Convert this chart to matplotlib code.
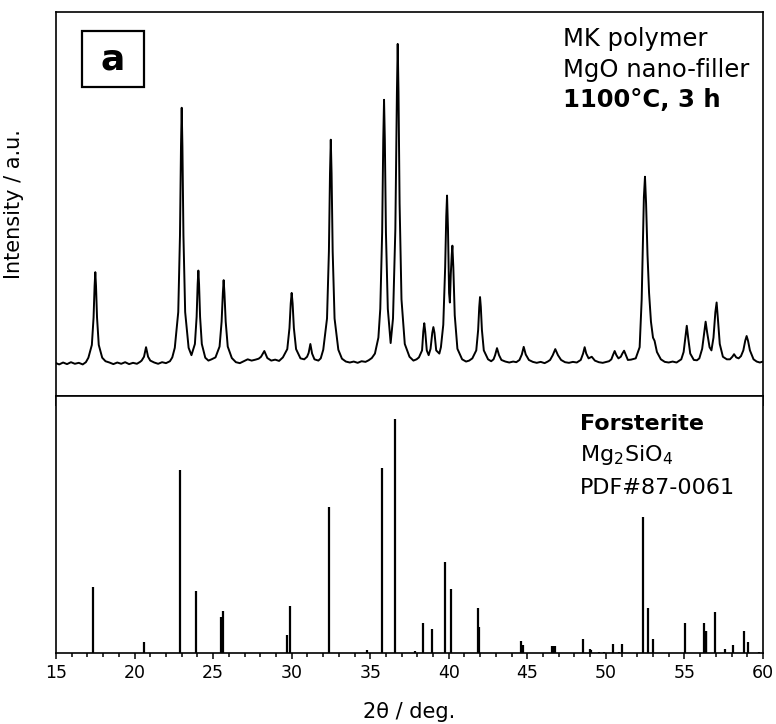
import matplotlib
matplotlib.use("Agg")
import matplotlib.pyplot as plt
from matplotlib.patches import Rectangle
from matplotlib.ticker import MultipleLocator

# measured pattern: (2theta in deg, intensity normalised so strongest peak = 100)
pattern = [
    (15.0, 0.0), (15.2, -0.4), (15.45, 0.2), (15.7, -0.3), (15.95, 0.3), (16.2, -0.2),
    (16.45, 0.1), (16.7, -0.4), (16.9, 0.3), (17.06, 1.7), (17.28, 5.7), (17.39, 14.3),
    (17.455, 24.2), (17.50, 28.5), (17.545, 24.2), (17.61, 14.3), (17.72, 5.7), (17.94, 1.7),
    (18.15, 0.6), (18.4, 0.2), (18.65, -0.3), (18.9, 0.2), (19.15, -0.2), (19.4, 0.3),
    (19.65, -0.3), (19.9, 0.1), (20.15, -0.2), (20.35, 0.4), (20.45, 0.8), (20.6, 2),
    (20.73, 5), (20.86, 2), (21.0, 0.8), (21.25, 0.2), (21.5, -0.2), (21.75, 0.3), (22.0, 0.0),
    (22.25, 0.6), (22.4, 1.8), (22.56, 4.8), (22.78, 16), (22.89, 40), (22.955, 68), (23.0, 80),
    (23.045, 68), (23.11, 40), (23.22, 16), (23.44, 4.8), (23.62, 2.5), (23.84, 6),
    (23.95, 14.5), (24.015, 24.7), (24.06, 29), (24.105, 24.7), (24.17, 14.5), (24.28, 6),
    (24.5, 1.7), (24.7, 0.8), (24.9, 1.2), (25.15, 1.8), (25.41, 5.2), (25.54, 13), (25.62, 22),
    (25.67, 26), (25.72, 22), (25.80, 13), (25.93, 5.2), (26.19, 1.6), (26.45, 0.3), (26.7, 0.0),
    (26.95, 0.6), (27.2, 1.2), (27.45, 0.8), (27.7, 1.1), (27.9, 1.4), (28.05, 2), (28.26, 3.8),
    (28.45, 1.6), (28.7, 0.8), (28.95, 1.1), (29.2, 0.7), (29.44, 1.8), (29.72, 4.4), (29.86, 11),
    (29.94, 18.7), (30.0, 22), (30.06, 18.7), (30.14, 11), (30.28, 4.4), (30.56, 1.5), (30.8, 1.2),
    (30.98, 2), (31.08, 3.2), (31.19, 6), (31.3, 3), (31.45, 1.2), (31.7, 0.8), (31.85, 1.5),
    (32.01, 4.2), (32.25, 14), (32.37, 35), (32.44, 59.5), (32.49, 70), (32.54, 59.5), (32.61, 35),
    (32.73, 14), (32.97, 4.2), (33.2, 1.4), (33.45, 0.5), (33.7, 0.2), (33.95, 0.5), (34.2, 0.1),
    (34.45, 0.6), (34.7, 0.4), (34.9, 0.9), (35.1, 1.6), (35.3, 3), (35.52, 8), (35.64, 17),
    (35.76, 41), (35.83, 70), (35.88, 82.5), (35.93, 70), (36.0, 41), (36.12, 17), (36.3, 6.3),
    (36.45, 14), (36.6, 42), (36.7, 85), (36.75, 100), (36.8, 85), (36.87, 50), (36.99, 20),
    (37.2, 6), (37.5, 2), (37.75, 0.8), (37.95, 1.2), (38.1, 1.8), (38.3, 4), (38.38, 10),
    (38.44, 12.5), (38.5, 10), (38.6, 4), (38.72, 2.5), (38.84, 4.5), (38.95, 9.5), (39.02, 11.3),
    (39.09, 9.5), (39.2, 4), (39.4, 3), (39.5, 5), (39.65, 12), (39.77, 30), (39.84, 46),
    (39.89, 52.5), (39.95, 42), (40.02, 22), (40.07, 19), (40.13, 28), (40.19, 34), (40.23, 36.8),
    (40.29, 30), (40.38, 15), (40.55, 4.5), (40.85, 1.2), (41.1, 0.5), (41.3, 0.8), (41.5, 1.5),
    (41.75, 4), (41.87, 10.4), (41.94, 17.6), (41.99, 20.7), (42.04, 17.6), (42.11, 10.4),
    (42.23, 4), (42.5, 1.2), (42.7, 0.6), (42.85, 1.2), (42.95, 2.5), (43.07, 4.7), (43.2, 2.5),
    (43.35, 1), (43.6, 0.5), (43.85, 0.2), (44.1, 0.5), (44.3, 0.3), (44.5, 1), (44.65, 2.7),
    (44.77, 5.1), (44.9, 2.7), (45.1, 1), (45.35, 0.4), (45.6, 0.1), (45.85, 0.4), (46.1, 0.0),
    (46.3, 0.5), (46.45, 1), (46.62, 2.5), (46.78, 4.4), (46.95, 2.5), (47.15, 1), (47.4, 0.3),
    (47.65, 0.1), (47.9, 0.4), (48.15, 0.2), (48.4, 1), (48.55, 3), (48.65, 5), (48.75, 3),
    (48.9, 1.5), (49.1, 2), (49.3, 0.8), (49.55, 0.3), (49.8, 0.1), (50.05, 0.4), (50.2, 0.6),
    (50.35, 1.2), (50.45, 2.5), (50.56, 3.8), (50.67, 2.5), (50.8, 1.5), (50.95, 2), (51.05, 3),
    (51.16, 3.9), (51.25, 2.8), (51.4, 1), (51.6, 1.1), (51.9, 1.5), (52.15, 5), (52.28, 20),
    (52.35, 36), (52.42, 52), (52.49, 58.4), (52.56, 50), (52.65, 34), (52.75, 22), (52.87, 13),
    (53.0, 8), (53.1, 7), (53.25, 3.5), (53.5, 1.2), (53.75, 0.4), (54.0, 0.2), (54.25, 0.5),
    (54.5, 0.2), (54.65, 0.7), (54.8, 1.2), (54.95, 3.5), (55.05, 7.5), (55.15, 11.7), (55.25, 7.5),
    (55.37, 3), (55.6, 1), (55.8, 0.9), (55.95, 1.5), (56.13, 4.5), (56.25, 9), (56.35, 13),
    (56.45, 9.5), (56.6, 5), (56.72, 4), (56.85, 8), (56.97, 16), (57.05, 19), (57.13, 14),
    (57.25, 6), (57.45, 2), (57.7, 1.2), (57.9, 1.2), (58.05, 2), (58.16, 2.8), (58.3, 1.8),
    (58.45, 1.5), (58.6, 2.2), (58.75, 4), (58.87, 7), (58.96, 8.5), (59.05, 7), (59.17, 4),
    (59.4, 1.2), (59.6, 0.5), (59.8, 0.2), (60.0, 0.5),
]
two_theta = [p[0] for p in pattern]
intensity = [p[1] for p in pattern]

# reference lines, Forsterite PDF#87-0061
ref_pos = [17.38, 20.6, 22.89, 23.91, 25.48, 25.61, 29.73, 29.87, 32.38, 34.78, 35.77, 36.58,
           37.88, 38.38, 38.93, 39.78, 40.14, 41.86, 41.94, 44.62, 44.71, 46.6, 46.7, 46.78,
           48.57, 48.98, 49.06, 49.59, 49.85, 50.44, 50.86, 51.05, 52.37, 52.67, 52.97, 55.01,
           56.25, 56.35, 56.4, 56.95, 57.6, 58.07, 58.79, 59.03, 59.77]
ref_int = [28.1, 4.9, 78.3, 26.5, 15.3, 18.1, 7.8, 20.1, 62.3, 1.3, 79.4, 100,
           1.0, 12.7, 10.1, 39.1, 27.2, 19.3, 11.3, 5.0, 3.4, 3.2, 3.2, 3.2,
           6.1, 1.8, 1.2, 0.5, 0.5, 3.7, 0.5, 3.7, 58.3, 19.3, 6.1, 13.0,
           13.0, 9.6, 9.6, 17.5, 1.6, 3.3, 9.6, 4.7, 0.5]

fig = plt.figure(figsize=(7.76, 7.24), dpi=100)
ax1 = fig.add_axes([0.0722, 0.453, 0.911, 0.5304])
ax2 = fig.add_axes([0.0722, 0.098, 0.911, 0.355])

ax1.plot(two_theta, intensity, color="black", lw=1.4)
ax1.set_xlim(15, 60)
ax1.set_ylim(-10.3, 110)
ax1.set_yticks([])
ax1.xaxis.set_major_locator(MultipleLocator(5))
ax1.xaxis.set_minor_locator(MultipleLocator(1))
ax1.tick_params(axis="x", which="major", direction="out", length=7, width=1.1, labelbottom=False)
ax1.tick_params(axis="x", which="minor", direction="out", length=4.3, width=1.1)
ax1.set_ylabel("Intensity / a.u.", fontsize=15)
ax1.yaxis.set_label_coords(-0.045, 0.5)

ax1.add_patch(Rectangle((0.0368, 0.8047), 0.0877, 0.1458, transform=ax1.transAxes,
                        fill=False, ec="black", lw=1.6))
ax1.text(0.0806, 0.8776, "a", transform=ax1.transAxes, ha="center", va="center",
         fontsize=26, fontweight="bold")
ax1.text(0.717, 0.912, "MK polymer", transform=ax1.transAxes, fontsize=17.5, va="baseline")
ax1.text(0.717, 0.8315, "MgO nano-filler", transform=ax1.transAxes, fontsize=17.5, va="baseline")
ax1.text(0.717, 0.752, "1100°C, 3 h", transform=ax1.transAxes, fontsize=17.5,
         fontweight="bold", va="baseline")

ax2.vlines(ref_pos, 0, ref_int, color="black", lw=1.6)
ax2.set_xlim(15, 60)
ax2.set_ylim(0, 110)
ax2.set_yticks([])
ax2.xaxis.set_major_locator(MultipleLocator(5))
ax2.xaxis.set_minor_locator(MultipleLocator(1))
ax2.tick_params(axis="x", which="major", direction="out", length=4.5, width=1.1, labelsize=12.5)
ax2.tick_params(axis="x", which="minor", direction="out", length=3, width=1.1)
ax2.text(0.741, 0.868, "Forsterite", transform=ax2.transAxes, fontsize=16,
         fontweight="bold", va="baseline")
ax2.text(0.741, 0.747, "Mg$_2$SiO$_4$", transform=ax2.transAxes, fontsize=16, va="baseline")
ax2.text(0.741, 0.619, "PDF#87-0061", transform=ax2.transAxes, fontsize=16, va="baseline")

for ax in (ax1, ax2):
    for sp in ax.spines.values():
        sp.set_linewidth(1.2)

fig.text(409.5 / 776, 1 - 712 / 724, "2θ / deg.", ha="center", va="center", fontsize=15)

fig.savefig("out.png", dpi=100)
